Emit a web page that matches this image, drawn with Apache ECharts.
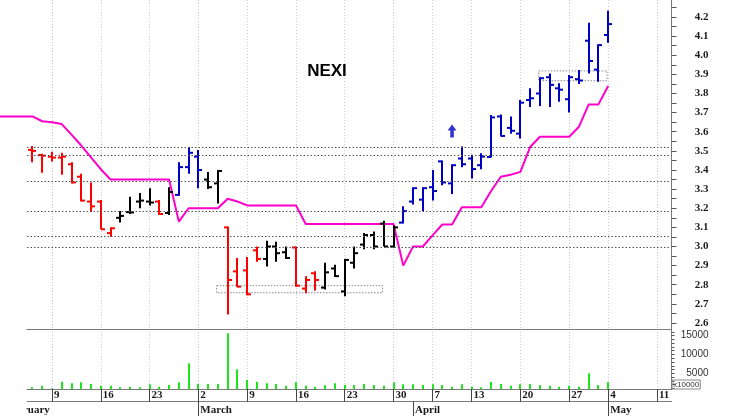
<!DOCTYPE html>
<html><head><meta charset="utf-8">
<script src="https://cdn.jsdelivr.net/npm/echarts@6/dist/echarts.min.js"></script>
<style>html,body{margin:0;padding:0;background:#fff}#c{width:740px;height:416px}</style>
</head><body><div id="c"></div>
<script>
// ---------------- DATA ----------------
const tradingDays = [
 '2026-01-30',
 '2026-02-02','2026-02-03','2026-02-04','2026-02-05','2026-02-06',
 '2026-02-09','2026-02-10','2026-02-11','2026-02-12','2026-02-13',
 '2026-02-16','2026-02-17','2026-02-18','2026-02-19','2026-02-20',
 '2026-02-23','2026-02-24','2026-02-25','2026-02-26','2026-02-27',
 '2026-03-02','2026-03-03','2026-03-04','2026-03-05','2026-03-06',
 '2026-03-09','2026-03-10','2026-03-11','2026-03-12','2026-03-13',
 '2026-03-16','2026-03-17','2026-03-18','2026-03-19','2026-03-20',
 '2026-03-23','2026-03-24','2026-03-25','2026-03-26','2026-03-27',
 '2026-03-30','2026-03-31','2026-04-01','2026-04-02',
 '2026-04-07','2026-04-08','2026-04-09','2026-04-10',
 '2026-04-13','2026-04-14','2026-04-15','2026-04-16','2026-04-17',
 '2026-04-20','2026-04-21','2026-04-22','2026-04-23','2026-04-24',
 '2026-04-27','2026-04-28','2026-04-29','2026-04-30',
 '2026-05-04','2026-05-05','2026-05-06','2026-05-07','2026-05-08',
 '2026-05-11'
];
const monthNames = ['January','February','March','April','May','June','July','August','September','October','November','December'];

const firstBarDay = '2026-02-05';
const open = [
 3.505,3.478,3.47,3.465,3.43, 3.365,3.235,3.235,3.07,3.15,
 3.18,3.235,3.235,3.235,3.175, 3.27,3.415,3.47,3.35,3.33,
 3.10,2.87,2.875,2.98,2.935, 3.00,2.97,2.995,2.78,2.86,
 2.785,2.885,2.765,2.915,3.01, 3.06,3.12,3.0,3.125,3.235,
 3.245,3.31,3.445,3.33,3.46, 3.46,3.425,3.468,3.68,3.62,
 3.59,3.766,3.80,3.885,3.827, 3.77,3.875,4.076,3.925,4.106];
const high = [
 3.525,3.485,3.495,3.49,3.44, 3.38,3.335,3.243,3.10,3.185,
 3.26,3.28,3.305,3.243,3.31, 3.44,3.52,3.505,3.39,3.40,
 3.105,2.94,2.945,3.00,3.03, 3.025,3.0,3.0,2.845,2.87,
 2.915,2.905,2.935,3.0,3.07, 3.078,3.135,3.11,3.21,3.31,
 3.31,3.40,3.45,3.43,3.523, 3.48,3.487,3.687,3.69,3.68,
 3.766,3.827,3.885,3.905,3.853, 3.897,3.923,4.17,4.058,4.233];
const low = [
 3.44,3.385,3.445,3.375,3.33, 3.235,3.18,3.09,3.05,3.125,
 3.17,3.20,3.215,3.165,3.165, 3.265,3.38,3.305,3.30,3.225,
 2.645,2.79,2.745,2.92,2.895, 2.92,2.935,2.79,2.755,2.77,
 2.775,2.84,2.74,2.885,2.985, 2.985,3.0,2.995,3.12,3.22,
 3.185,3.24,3.32,3.275,3.415, 3.355,3.404,3.465,3.575,3.59,
 3.565,3.73,3.735,3.73,3.757, 3.70,3.85,3.905,3.862,4.066];
const close = [
 3.50,3.475,3.465,3.47,3.335, 3.24,3.21,3.09,3.095,3.16,
 3.178,3.24,3.23,3.17,3.285, 3.415,3.49,3.40,3.31,3.395,
 2.825,2.79,2.75,2.935,3.0, 2.965,2.94,2.795,2.825,2.825,
 2.865,2.845,2.93,2.965,3.06, 3.0,3.0,3.10,3.185,3.305,
 3.305,3.29,3.335,3.425,3.43, 3.405,3.47,3.675,3.578,3.605,
 3.752,3.775,3.88,3.845,3.82, 3.885,3.868,3.97,4.053,4.163];
// trend state of each bar: r = bearish, k = neutral, b = bullish
const signal = ('rrrrrrrrr'+'kkkk'+'r'+'k'+'bbb'+'kk'+'rrrr'+'kkk'+'rrr'+'kkkkkkkk'+'bbbbbbbbbbbbbbbbbbbbbb').split('');
const volume = [
 1270,1700,1000,2760,2340, 2600,2150,1700,1700,1270,
 1440,1270,2075,1440,1890, 2600,7660,2150,2150,2150,
 15640,6060,3220,2760,2340, 2150,1700,2690,1700,1440,
 1810,2340,1890,1890,2150, 1890,1700,2600,2075,2075,
 1890,2075,1890,1440,2075, 1440,1270,2690,2150,1700,
 2075,2150,1890,1700,1440, 1700,1440,5000,1890,2690];
// trailing stop line, from tradingDays[0]
const stopLine = [
 3.68,3.68,3.68,3.68,3.68, 3.655,3.65,3.64,3.585,3.528,
 3.466,3.404,3.35,3.35,3.35, 3.35,3.35,3.35,3.35,3.13,
 3.20,3.20,3.20,3.20,3.25, 3.235,3.215,3.215,3.215,3.215,
 3.215,3.215,3.118,3.118,3.118, 3.118,3.118,3.118,3.118,3.118,
 3.118,3.118,2.90,3.0,3.0, 3.058,3.115,3.115,3.205,3.205,
 3.205,3.29,3.365,3.375,3.39, 3.52,3.574,3.574,3.574,3.574,
 3.626,3.743,3.743,3.839];
const levels = [3.52, 3.478, 3.342, 3.186, 3.055, 2.998];
const boxes = [
 {from:'2026-03-04', to:'2026-03-27', hi:2.795, lo:2.758},
 {from:'2026-04-22', to:'2026-05-04', hi:3.918, lo:3.867}
];
const buySignal = {day:'2026-04-09', price:3.604};
const priceTicks = [2.6,2.7,2.8,2.9,3.0,3.1,3.2,3.3,3.4,3.5,3.6,3.7,3.8,3.9,4.0,4.1,4.2];
const volumeTicks = [5000,10000,15000];
const volumeUnit = 'x10000';
const title = 'NEXI';

// ---------------- BUILD ----------------
const dates = tradingDays.map(s => new Date(s + 'T00:00:00Z'));
const idx = s => tradingDays.indexOf(s);
const weekStarts = [], monthStarts = [];
dates.forEach((d, i) => {
  if (i === 0) return;
  const p = dates[i - 1];
  if (d.getUTCDay() <= p.getUTCDay() || (d - p) > 4 * 86400000) weekStarts.push(i);
  if (d.getUTCMonth() !== p.getUTCMonth()) monthStarts.push(i);
});
const i0 = idx(firstBarDay);
const ohlc = open.map((o, k) => [i0 + k, o, high[k], low[k], close[k]]);
const vol = volume.map((v, k) => [i0 + k, v]);
const stop = stopLine.map((v, k) => [k, v]);
const minorPriceTicks = [];
priceTicks.forEach(t => { minorPriceTicks.push(t); minorPriceTicks.push(+(t + 0.05).toFixed(2)); });
const volTickMarks = [];
for (let v = 1000; v <= 16000; v += 1000) volTickMarks.push(v);

const signalColor = {r:'#ff0000', k:'#000000', b:'#0000c0'};
const PLOT_L = 27, PLOT_R = 671.5;
const X_MIN = 3.439, X_MAX = 69.488;
const PX_PER_DAY = (PLOT_R - PLOT_L) / (X_MAX - X_MIN);
const X_MIN_PRICE = X_MIN - PLOT_L / PX_PER_DAY;   // price panel runs to the left edge
const P_MIN = 2.5686, P_MAX = 4.2889;
const V_MIN = 824, V_MAX = 16784;
const serif = 'Liberation Serif', sans = 'Liberation Sans';
const axisGray = '#7a7a7a';
const priceWeekStarts = weekStarts.filter(v => v >= X_MIN);

function renderOHLC(params, api) {
  const x = api.value(0);
  const pO = api.coord([x, api.value(1)]);
  const pH = api.coord([x, api.value(2)]);
  const pL = api.coord([x, api.value(3)]);
  const pC = api.coord([x, api.value(4)]);
  const col = signalColor[signal[params.dataIndex]];
  const cx = Math.round(pH[0]);
  const st = {stroke: col, lineWidth: 2};
  return {type:'group', children:[
    {type:'line', shape:{x1:cx, y1:pH[1], x2:cx, y2:pL[1]}, style:st},
    {type:'line', shape:{x1:cx-4, y1:pO[1], x2:cx, y2:pO[1]}, style:st},
    {type:'line', shape:{x1:cx, y1:pC[1], x2:cx+4, y2:pC[1]}, style:st}
  ]};
}
function renderVol(params, api) {
  const x = api.value(0);
  const p = api.coord([x, api.value(1)]);
  const b = api.coord([x, V_MIN]);
  return {type:'rect', shape:{x:Math.round(p[0]) - 1, y:p[1], width:2, height:b[1] - p[1]}, style:{fill:'#1ee61e'}};
}

const chart = echarts.init(document.getElementById('c'), null, {width:740, height:416});
const gridSplit = {show:true, lineStyle:{color:'#c8c8c8', type:[1,2], width:1}};
chart.setOption({
  animation:false,
  backgroundColor:'#ffffff',
  title:{text:title, left:327, top:63, padding:0, textAlign:'center',
         textStyle:{fontFamily:sans, fontWeight:'bold', fontSize:17, color:'#000'}},
  grid:[
    {left:0, right:740 - PLOT_R, top:0, height:329},
    {left:PLOT_L, right:740 - PLOT_R, top:329, height:60}
  ],
  xAxis:[
    {type:'value', gridIndex:0, min:X_MIN_PRICE, max:X_MAX, position:'bottom',
     axisLine:{show:false},
     axisTick:{show:false, customValues:priceWeekStarts},
     axisLabel:{show:false, customValues:priceWeekStarts},
     splitLine:gridSplit},
    {type:'value', gridIndex:1, min:X_MIN, max:X_MAX, position:'bottom',
     axisLine:{show:true, lineStyle:{color:axisGray, width:1}},
     axisTick:{show:true, customValues:weekStarts, length:12.7, lineStyle:{color:'#444', width:1}},
     axisLabel:{show:true, customValues:weekStarts, margin:1, align:'left', padding:[0,0,0,2],
       fontFamily:serif, fontWeight:'bold', fontSize:11, color:'#1a1a1a',
       formatter:v => String(dates[Math.round(v)].getUTCDate())},
     splitLine:gridSplit},
    {type:'value', gridIndex:1, min:X_MIN, max:X_MAX, position:'bottom', offset:12.7,
     axisLine:{show:true, lineStyle:{color:axisGray, width:1}},
     axisTick:{show:true, customValues:monthStarts, length:15, lineStyle:{color:'#444', width:1}},
     axisLabel:{show:true, customValues:monthStarts, margin:3, align:'left', padding:[0,0,0,2],
       fontFamily:serif, fontWeight:'bold', fontSize:11, color:'#1a1a1a',
       formatter:v => monthNames[dates[Math.round(v)].getUTCMonth()]},
     splitLine:{show:false}},
    {type:'value', gridIndex:1, min:X_MIN, max:X_MAX, position:'top',
     axisLine:{show:true, lineStyle:{color:axisGray, width:1}},
     axisTick:{show:false}, axisLabel:{show:false}, splitLine:{show:false}}
  ],
  yAxis:[
    {type:'value', gridIndex:0, position:'right', min:P_MIN, max:P_MAX,
     axisLine:{show:true, lineStyle:{color:axisGray, width:1}},
     axisTick:{show:true, customValues:minorPriceTicks, length:5, lineStyle:{color:'#555'}},
     axisLabel:{show:true, customValues:priceTicks, margin:37, align:'right',
       fontFamily:serif, fontWeight:'bold', fontSize:11, color:'#1a1a1a',
       formatter:v => Number(v).toFixed(1)},
     splitLine:{show:false}},
    {type:'value', gridIndex:1, position:'right', min:V_MIN, max:V_MAX,
     axisLine:{show:true, lineStyle:{color:axisGray, width:1}},
     axisTick:{show:true, customValues:volTickMarks, length:3, lineStyle:{color:'#555'}},
     axisLabel:{show:true, customValues:volumeTicks, margin:37, align:'right',
       fontFamily:sans, fontSize:10, color:'#333', formatter:v => String(Math.round(v))},
     splitLine:{show:false}}
  ],
  series:[
    {type:'line', name:'stop', xAxisIndex:0, yAxisIndex:0, data:stop,
     symbol:'none', lineStyle:{color:'#ff00cc', width:2}, z:2,
     markLine:{silent:true, symbol:'none', label:{show:false},
       lineStyle:{color:'#555', type:[1.5,2], width:1},
       data:levels.map(v => [{coord:[X_MIN, v]}, {coord:[X_MAX, v]}])},
     markArea:{silent:true,
       itemStyle:{color:'rgba(0,0,0,0)', borderColor:'#888', borderWidth:1, borderType:[1.5,1.5]},
       data:boxes.map(b => [{coord:[idx(b.from) - 0.12, b.hi]}, {coord:[idx(b.to) - 0.12, b.lo]}])}},
    {type:'custom', name:'price', xAxisIndex:0, yAxisIndex:0, data:ohlc, renderItem:renderOHLC, z:3},
    {type:'scatter', name:'signal', xAxisIndex:0, yAxisIndex:0,
     data:[[idx(buySignal.day), buySignal.price]],
     symbol:'path://M5,0 L10,6 L7,6 L7,13 L3,13 L3,6 L0,6 Z', symbolSize:[9,13],
     itemStyle:{color:'#0000c0'}, z:4},
    {type:'custom', name:'volume', xAxisIndex:1, yAxisIndex:1, data:vol, renderItem:renderVol, z:3}
  ]
});
// cut-off month label at the far left, positioned through the axis scale
const febX = chart.convertToPixel({xAxisIndex:2}, idx(tradingDays.find((s,i) => i>0 && dates[i].getUTCMonth()===1)));
chart.setOption({graphic:[
  {type:'text', x:febX + 2, y:405, z:100, style:{text:monthNames[1], font:'bold 11px "Liberation Serif"', fill:'#1a1a1a', verticalAlign:'top'}},
  {type:'rect', shape:{x:0, y:389.5, width:26.5, height:27}, style:{fill:'#ffffff'}, z:101},
  {type:'text', x:672, y:380, z:100, style:{text:volumeUnit, font:'8px "Liberation Sans"', fill:'#333',
     borderColor:'#888', borderWidth:1, padding:[1,1,0,1], verticalAlign:'top'}}
]});
</script>
</body></html>
